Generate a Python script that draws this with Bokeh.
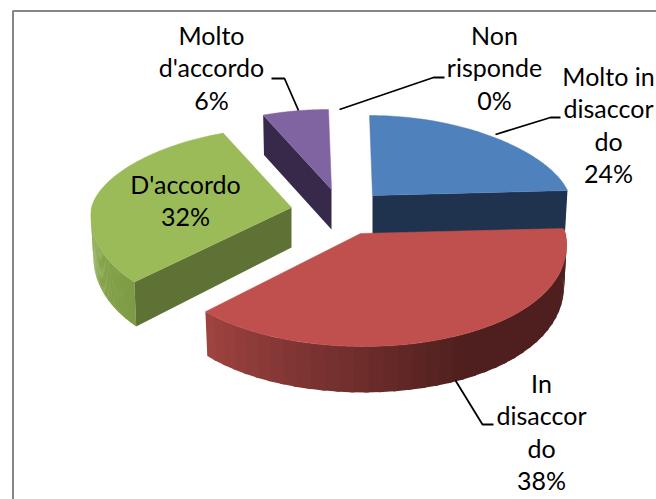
import math
from bokeh.plotting import figure
from bokeh.models import ColumnDataSource
from bokeh.core.properties import value
from bokeh.embed import file_html
from bokeh.resources import INLINE

# ---- data ----
categories = ["Molto in disaccordo", "In disaccordo", "D'accordo", "Molto d'accordo", "Non risponde"]
percentages = [24, 38, 32, 6, 0]
label_lines = [
    ["Molto in", "disaccor", "do", "24%"],
    ["In", "disaccor", "do", "38%"],
    ["D'accordo", "32%"],
    ["Molto", "d'accordo", "6%"],
    ["Non", "risponde", "0%"],
]

# ---- layout / style ----
APEX = [(372, 195), (360, 233), (291, 207), (331, 189), (331, 189)]
RX = [197, 205, 200, 200, 200]
WARP = [0, 3, 5.5, 0, 0]
RY_BACK, RY_FRONT = 80, 113
PERSP_BACK, PERSP_FRONT = 0.118, 0.09
TOP = ["#4f81bd", "#c0504d", "#9bbb59", "#8064a2", "#8064a2"]
SIDE = ["#1f334e", "#4e1f1e", "#5f7235", "#37294a", "#37294a"]
LABEL_POS = [(608, 75.5), (541, 382.5), (185, 183.5), (211, 34.5), (494, 34.5)]
LINE_STEP = 32.3
LEADERS = [
    ([495, 550, 560], [134, 117, 117]),
    ([455, 482, 493], [380, 424, 424]),
    ([271, 284, 298], [78, 78, 110]),
    ([339, 433, 444], [109, 77, 77]),
]
FONT = "Lato"
FONT_SIZE = "25px"


def mix(c1, c2, f):
    a = [int(c1[i:i + 2], 16) for i in (1, 3, 5)]
    b = [int(c2[i:i + 2], 16) for i in (1, 3, 5)]
    return "#%02x%02x%02x" % tuple(round(u + (v - u) * f) for u, v in zip(a, b))


def rim(i, deg):
    t = math.radians(deg)
    if -math.cos(t) > 0:
        t += math.radians(WARP[i]) * math.sin(2 * t)
    f = -math.cos(t)
    ax, ay = APEX[i]
    k = PERSP_FRONT if f > 0 else PERSP_BACK
    x = ax + RX[i] * math.sin(t) * (1 + k * f) + 3 * f
    y = ay + f * (RY_FRONT if f > 0 else RY_BACK)
    return x, y


def drop(i, x, y, deg):
    f = max(0.0, -math.cos(math.radians(deg)))
    return x - 0.012 * (x - APEX[i][0]), y + 40 + 6 * f


def arc_colour(i, frac):
    if i == 1:  # frac 0 = right end, 1 = left end
        if frac > 0.5:
            return mix("#4e1f1e", "#9e4340", (frac - 0.5) / 0.5)
        return "#4e1f1e"
    return mix("#7d9b44", "#92af55", frac)


p = figure(width=656, height=499, x_range=(0, 656), y_range=(499, 0),
           toolbar_location=None, output_backend="svg", min_border=0,
           outline_line_color=None, background_fill_color="white")
p.xaxis.visible = False
p.yaxis.visible = False
p.grid.visible = False

# chart frame
p.line([12.5, 12.5, 656], [499, 10.5, 10.5], line_color="#868686", line_width=2)

# slice angles from the values
angles = []
acc = 0.0
for v in percentages:
    start = acc
    acc += v * 3.6
    angles.append((start, acc))

draw_order = [3, 0, 2, 1]
for i in draw_order:
    a0, a1 = angles[i]
    ax, ay = APEX[i]
    xs, ys, cols = [], [], []

    # curved front wall
    if i in (1, 2):
        lo, hi = (a0, a1) if i == 1 else (a0, 270.0)
        n = 40
        for k in range(n):
            d0 = lo + (hi - lo) * k / n
            d1 = min(lo + (hi - lo) * (k + 1.3) / n, hi)
            x0, y0 = rim(i, d0)
            x1, y1 = rim(i, d1)
            x2, y2 = drop(i, x1, y1, d1)
            x3, y3 = drop(i, x0, y0, d0)
            xs.append([x0, x1, x2, x3])
            ys.append([y0, y1, y2, y3])
            cols.append(arc_colour(i, k / (n - 1)))

    # visible straight wall
    if i in (0, 2, 3):
        deg = a1 if i == 0 else a0
        ex, ey = rim(i, deg)
        bx, by = drop(i, ex, ey, deg)
        cx, cy = drop(i, ax, ay, 90)
        xs.append([ax, ex, bx, cx])
        ys.append([ay, ey, by, cy])
        cols.append(SIDE[i])

    if xs:
        p.patches(xs="xs", ys="ys", fill_color="col", line_color=None,
                  source=ColumnDataSource(dict(xs=xs, ys=ys, col=cols)))

    # top face
    steps = 80
    top = [rim(i, a0 + (a1 - a0) * k / steps) for k in range(steps + 1)]
    p.patch([ax] + [q[0] for q in top], [ay] + [q[1] for q in top],
            fill_color=TOP[i], line_color=TOP[i], line_width=0.5)

# leader lines
for lx, ly in LEADERS:
    p.line(lx, ly, line_color="black", line_width=1.8)

# labels
tx, ty, tt = [], [], []
for (lx, ly), lines in zip(LABEL_POS, label_lines):
    for n, s in enumerate(lines):
        tx.append(lx)
        ty.append(ly + n * LINE_STEP)
        tt.append(s)
p.text(x="x", y="y", text="t", source=ColumnDataSource(dict(x=tx, y=ty, t=tt)),
       text_align="center", text_baseline="middle", text_color="black",
       text_font=value(FONT), text_font_size=FONT_SIZE)

open("out.html", "w").write(file_html(p, INLINE))
